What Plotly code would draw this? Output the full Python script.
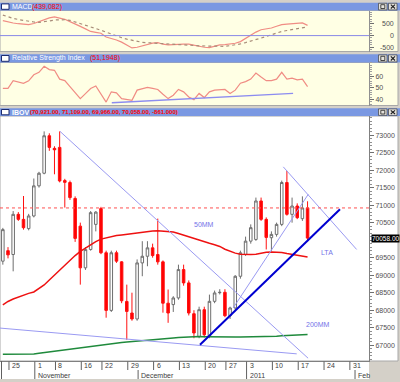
import plotly.graph_objects as go
import pandas as pd

# ---------------- trading calendar (Bovespa holidays removed) ----------------
holidays = ["2010-11-02", "2010-11-15", "2010-12-24", "2010-12-31"]
calendar = [d.strftime("%Y-%m-%d") for d in pd.bdate_range("2010-10-22", "2011-02-04")
            if d.strftime("%Y-%m-%d") not in holidays]
dates = calendar[:60]          # 2010-10-22 .. 2011-01-19

# ---------------- IBOV daily OHLC ----------------
opens = [69400, 69700, 69590, 70737, 70593, 70330, 70690, 71550, 71910, 72980,
         72620, 72648, 71700, 71645, 71190, 70400, 69210, 69734, 70450, 70900,
         69640, 67995, 69640, 69380, 68250, 67920, 67750, 69350, 69540, 69780,
         69590, 69380, 68200, 68160, 68350, 69160, 68780, 67900, 67250, 68015,
         67250, 68253, 68500, 68511, 67843, 68064, 68969, 69591, 69972, 70020,
         71118, 70593, 70069, 70164, 70450, 71645, 70737, 70974, 70613, 70921]
highs = [70350, 69800, 70830, 70800, 71260, 70750, 71760, 71950, 73105, 73050,
         72680, 73105, 71750, 71700, 71250, 70500, 69800, 70830, 70830, 70950,
         69700, 69700, 69700, 69400, 68730, 68500, 69450, 69970, 69970, 69900,
         70615, 69420, 68590, 68400, 69300, 69300, 68850, 68000, 68100, 68100,
         68445, 68560, 68600, 68600, 68100, 69000, 69700, 70100, 70450, 71215,
         71215, 70650, 70250, 70500, 71700, 71977, 71215, 71050, 71250, 71109]
lows = [69300, 69480, 69110, 70550, 70300, 70280, 70650, 71500, 71880, 72550,
        71880, 71650, 70930, 71150, 69950, 68730, 69150, 69700, 70250, 69600,
        67786, 67950, 69350, 68200, 67155, 67700, 67700, 68970, 69255, 69500,
        69300, 67930, 67640, 67950, 68300, 68700, 67850, 67200, 67200, 67220,
        67200, 68200, 68450, 67800, 67750, 68000, 68900, 69550, 69900, 69980,
        70550, 69734, 69685, 70100, 70400, 70700, 70499, 70600, 70550, 69966]
closes = [70300, 69580, 70737, 70593, 70355, 70690, 71550, 71910, 72980, 72648,
          72580, 71690, 71650, 71215, 70050, 69210, 69730, 70785, 70800, 69640,
          67995, 69640, 69400, 68270, 67965, 67750, 69350, 69540, 69780, 69560,
          69380, 68200, 67920, 68350, 69160, 68780, 67920, 67350, 68015, 67300,
          68253, 68493, 68510, 67843, 68064, 68969, 69639, 69972, 70356, 71118,
          70593, 70078, 70164, 70450, 71645, 70737, 70974, 70642, 70919, 70058]

# moving averages
ma50 = [68150, 68250, 68320, 68380, 68430, 68480, 68520, 68620, 68720, 68860,
        69000, 69150, 69300, 69420, 69560, 69680, 69780, 69870, 69960, 70030,
        70070, 70100, 70130, 70150, 70170, 70190, 70210, 70230, 70250, 70260,
        70265, 70260, 70250, 70230, 70190, 70140, 70090, 70040, 69990, 69950,
        69910, 69870, 69820, 69740, 69680, 69630, 69600, 69590, 69590, 69600,
        69630, 69655, 69665, 69660, 69650, 69620, 69595, 69570, 69545, 69520]
ma200 = [66745, 66745, 66745, 66745, 66745, 66745, 66750, 66770, 66790, 66810,
         66830, 66850, 66868, 66885, 66905, 66925, 66950, 66970, 66995, 67015,
         67030, 67045, 67060, 67075, 67090, 67105, 67120, 67135, 67150, 67170,
         67180, 67190, 67200, 67210, 67220, 67230, 67240, 67245, 67250, 67245,
         67240, 67238, 67236, 67235, 67234, 67234, 67234, 67234, 67234, 67235,
         67236, 67238, 67245, 67255, 67268, 67278, 67288, 67295, 67300, 67307]

# MACD and signal
macd = [640, 580, 540, 510, 480, 470, 520, 600, 690, 760,
        804, 760, 700, 600, 480, 396, 290, 178, 140, 100,
        -60, -120, -190, -280, -400, -530, -500, -430, -380, -320,
        -300, -370, -400, -380, -370, -365, -370, -420, -474, -500,
        -517, -460, -400, -385, -370, -330, -257, -120, 35, 150,
        252, 290, 326, 400, 470, 495, 513, 530, 543, 439]
signal = [880, 800, 740, 690, 650, 610, 585, 570, 590, 630,
          670, 687, 680, 657, 590, 510, 426, 360, 290, 230,
          150, 60, -20, -90, -152, -200, -240, -290, -305, -315,
          -325, -340, -355, -370, -395, -405, -415, -425, -443, -452,
          -460, -468, -474, -460, -430, -400, -357, -300, -240, -170,
          -109, -40, 35, 110, 178, 220, 252, 290, 326, 370]

# RSI
rsi = [49.6, 49.6, 56.4, 55.0, 54.1, 56.2, 61.5, 63.6, 68.9, 66.0,
       65.4, 57.7, 56.4, 51.1, 46.0, 40.7, 45.0, 49.5, 51.7, 45.0,
       37.7, 46.6, 45.7, 40.7, 39.8, 39.2, 48.1, 49.6, 50.5, 49.6,
       48.7, 44.5, 40.7, 43.7, 48.7, 46.6, 42.1, 39.8, 45.2, 41.6,
       46.6, 48.1, 48.7, 48.7, 45.2, 48.1, 54.1, 55.5, 57.7, 63.0,
       59.5, 56.4, 56.4, 57.7, 63.6, 57.7, 58.6, 57.1, 57.7, 51.19]

# drawn trend lines: (calendar index start, end), (price start, end)
tl_long_fall = ([11.07, 59.1], [73105, 66630])
tl_short_fall = ([54.3, 68.5], [72092, 69734])
tl_thin_rise = ([44.6, 59.14], [68064, 71310])
tl_low_fall = ([-0.55, 56.9], [67490, 66754])
tl_lta = ([38.17, 65.28], [67012, 70880])
rsi_support = ([21.1, 56.2], [37.1, 45.2])

# axis labels
day_tick_dates = ["2010-10-25", "2010-11-01", "2010-11-08", "2010-11-16", "2010-11-22",
                  "2010-11-29", "2010-12-06", "2010-12-13", "2010-12-20", "2010-12-27",
                  "2011-01-03", "2011-01-10", "2011-01-17", "2011-01-24", "2011-01-31"]
day_tick_labels = ["25", "1", "8", "16", "22", "29", "6", "13", "20", "27", "3", "10", "17", "24", "31"]
month_tick_dates = ["2010-11-01", "2010-12-01", "2011-01-03", "2011-02-01"]
month_tick_labels = ["November", "December", "2011", "Feb"]
price_ticks = list(range(67000, 73001, 500))
macd_ticks = [500, 0, -500]
rsi_ticks = [40, 50, 60]

# ---------------------------------------------------------------------------
xs = [calendar.index(d) for d in dates]
day_pos = [calendar.index(d) for d in day_tick_dates]
month_pos = [calendar.index(d) for d in month_tick_dates]
XR = [-0.549, 70.895]
W, H = 400, 382


def px(xp):
    return xp / W


def py(yp):
    return 1 - yp / H


FONT = "Liberation Sans"
TITLE_BLUE = "#7a98e2"
TL_COLOR = "#9a9af2"

fig = go.Figure()

# MACD panel
fig.add_trace(go.Scatter(x=xs, y=macd, mode="lines", line=dict(color="#f08c84", width=1.2),
                         xaxis="x2", yaxis="y2", hoverinfo="skip"))
fig.add_trace(go.Scatter(x=xs, y=signal, mode="lines", line=dict(color="#a88c78", width=1.2, dash="dot"),
                         xaxis="x2", yaxis="y2", hoverinfo="skip"))
# RSI panel
fig.add_trace(go.Scatter(x=xs, y=rsi, mode="lines", line=dict(color="#f08c84", width=1.2),
                         xaxis="x3", yaxis="y3", hoverinfo="skip"))
fig.add_trace(go.Scatter(x=rsi_support[0], y=rsi_support[1], mode="lines",
                         line=dict(color="#8c8cf0", width=1.3), xaxis="x3", yaxis="y3", hoverinfo="skip"))

# main panel
fig.add_trace(go.Scatter(x=xs, y=ma200, mode="lines", line=dict(color="#1f8a3c", width=1.5),
                         xaxis="x", yaxis="y", hoverinfo="skip"))
fig.add_trace(go.Candlestick(
    x=xs, open=opens, high=highs, low=lows, close=closes,
    increasing=dict(line=dict(color="#6e6e6e", width=1), fillcolor="#ffffff"),
    decreasing=dict(line=dict(color="#ff1010", width=1), fillcolor="#ff0000"),
    xaxis="x", yaxis="y", hoverinfo="skip"))
fig.add_trace(go.Scatter(x=xs, y=ma50, mode="lines", line=dict(color="#ee1111", width=1.5),
                         xaxis="x", yaxis="y", hoverinfo="skip"))
for tl in (tl_long_fall, tl_short_fall, tl_thin_rise, tl_low_fall):
    fig.add_trace(go.Scatter(x=tl[0], y=tl[1], mode="lines", line=dict(color=TL_COLOR, width=1),
                             xaxis="x", yaxis="y", hoverinfo="skip"))
fig.add_trace(go.Scatter(x=tl_lta[0], y=tl_lta[1], mode="lines", line=dict(color="#0000d0", width=2),
                         xaxis="x", yaxis="y", hoverinfo="skip"))

shapes = []
annotations = []

# ---------------- panel backgrounds and title bars ----------------
panels = [  # (title bar top, bar bottom, panel bottom, bg)
    (2.7, 10.5, 51.5, "#ffffe4"),
    (54.3, 62.5, 105.5, "#ffffe4"),
    (108.3, 116.0, 361.0, "#ffffff"),
]
for top, bar_bot, bot, bg in panels:
    shapes.append(dict(type="rect", xref="paper", yref="paper", x0=px(0), x1=px(398),
                       y0=py(bot), y1=py(bar_bot), fillcolor=bg, line=dict(color="#a8a8a8", width=1),
                       layer="below"))
    shapes.append(dict(type="rect", xref="paper", yref="paper", x0=px(0), x1=px(400),
                       y0=py(bar_bot), y1=py(top), fillcolor=TITLE_BLUE, line=dict(width=0),
                       layer="below"))
    # window icon
    shapes.append(dict(type="rect", xref="paper", yref="paper", x0=px(1.5), x1=px(9),
                       y0=py(bar_bot - 1.2), y1=py(top + 1.2), fillcolor="#ffffff",
                       line=dict(color="#1c2c70", width=1), layer="below"))
    # buttons
    for bx in (378.5, 388.5):
        shapes.append(dict(type="rect", xref="paper", yref="paper", x0=px(bx), x1=px(bx + 8.5),
                           y0=py(bar_bot - 0.6), y1=py(top + 0.6), fillcolor="#e4e2dc",
                           line=dict(color="#404040", width=0.7), layer="below"))
    shapes.append(dict(type="rect", xref="paper", yref="paper", x0=px(380.8), x1=px(384.8),
                       y0=py(bar_bot - 2), y1=py(top + 2), fillcolor="rgba(0,0,0,0)",
                       line=dict(color="#202020", width=0.8), layer="below"))
    shapes.append(dict(type="line", xref="paper", yref="paper", x0=px(390.8), x1=px(395),
                       y0=py(top + 2), y1=py(bar_bot - 2), line=dict(color="#202020", width=1.1)))
    shapes.append(dict(type="line", xref="paper", yref="paper", x0=px(390.8), x1=px(395),
                       y0=py(bar_bot - 2), y1=py(top + 2), line=dict(color="#202020", width=1.1)))

# date strip
shapes.append(dict(type="rect", xref="paper", yref="paper", x0=px(0), x1=px(369),
                   y0=py(379), y1=py(361), fillcolor="#ffffff", line=dict(width=0), layer="below"))
shapes.append(dict(type="line", xref="paper", yref="paper", x0=px(1.5), x1=px(1.5),
                   y0=py(379), y1=py(361), line=dict(color="#606060", width=1)))
for p in day_pos:
    shapes.append(dict(type="line", xref="x", yref="paper", x0=p + 0.19, x1=p + 0.19,
                       y0=py(370), y1=py(361.5), line=dict(color="#606060", width=1)))
for p in month_pos:
    shapes.append(dict(type="line", xref="x", yref="paper", x0=p + 0.19, x1=p + 0.19,
                       y0=py(379), y1=py(370), line=dict(color="#606060", width=1)))
for p, t in zip(day_pos, day_tick_labels):
    annotations.append(dict(x=p + 0.19, y=py(365.8), xref="x", yref="paper", text=t, showarrow=False,
                            xanchor="left", yanchor="middle", xshift=1,
                            font=dict(family=FONT, size=7, color="#404040")))
for p, t in zip(month_pos, month_tick_labels):
    annotations.append(dict(x=p + 0.19, y=py(375.2), xref="x", yref="paper", text=t, showarrow=False,
                            xanchor="left", yanchor="middle", xshift=1,
                            font=dict(family=FONT, size=7, color="#404040")))

# MACD zero line
shapes.append(dict(type="line", xref="x2 domain", yref="y2", x0=0, x1=1, y0=0, y1=0,
                   line=dict(color="#8888e6", width=1)))
# previous close dotted line
shapes.append(dict(type="line", xref="x domain", yref="y", x0=0, x1=1, y0=closes[-2], y1=closes[-2],
                   line=dict(color="#ff5050", width=1, dash="dot")))

# ---------------- titles ----------------
def title(y_center, white_text, x_red, red_text, red_size):
    annotations.append(dict(x=px(10.3), y=py(y_center), xref="paper", yref="paper", text=white_text,
                            showarrow=False, xanchor="left", yanchor="middle",
                            font=dict(family=FONT, size=7, color="#ffffff")))
    annotations.append(dict(x=px(x_red), y=py(y_center), xref="paper", yref="paper", text=red_text,
                            showarrow=False, xanchor="left", yanchor="middle",
                            font=dict(family=FONT, size=red_size, color="#ff0000")))


title(6.6, "MACD", 30.0, "(439,082)", 7)
title(58.4, "Relative Strength Index", 87.5, "(51,1948)", 7)
title(112.2, "<b>IBOV</b>", 27.5,
      "<b>(70,921.00, 71,109.00, 69,966.00, 70,058.00, -861.000)</b>", 6)

# MACD right-aligned labels
for v in macd_ticks:
    annotations.append(dict(x=px(395.5), y=v, xref="paper", yref="y2", text=str(v), showarrow=False,
                            xanchor="right", yanchor="middle",
                            font=dict(family=FONT, size=7, color="#505050")))

# last price tag
annotations.append(dict(x=px(370.5), y=closes[-1], xref="paper", yref="y", text="70058.00",
                        showarrow=False, xanchor="left", yanchor="middle", bgcolor="#000000",
                        borderpad=0, font=dict(family=FONT, size=6.5, color="#ffffff")))

# chart notes
note_font = dict(family=FONT, size=7, color="#7474e8")
annotations.append(dict(x=36.6, y=70450, xref="x", yref="y", text="50MM", showarrow=False,
                        xanchor="left", yanchor="middle", font=note_font))
annotations.append(dict(x=61.2, y=69660, xref="x", yref="y", text="LTA", showarrow=False,
                        xanchor="left", yanchor="middle", font=note_font))
annotations.append(dict(x=58.3, y=67600, xref="x", yref="y", text="200MM", showarrow=False,
                        xanchor="left", yanchor="middle", font=note_font))

tickfont = dict(family=FONT, size=7, color="#505050")
xcommon = dict(range=XR, showgrid=False, zeroline=False, showticklabels=False, ticks="",
               domain=[0, 369 / W], fixedrange=True)
price_text = ["" if v == 70000 else str(v) for v in price_ticks]

fig.update_layout(
    width=W, height=H, margin=dict(l=0, r=0, t=0, b=0),
    paper_bgcolor="#d4d0c8", plot_bgcolor="rgba(0,0,0,0)",
    showlegend=False, hovermode=False,
    xaxis=dict(**xcommon, anchor="y", rangeslider=dict(visible=False), showline=True,
               linecolor="#808080", linewidth=1),
    yaxis=dict(domain=[py(361), py(116)], range=[66550, 73544], side="right", anchor="x",
               showgrid=False, zeroline=False, tickmode="array", tickvals=price_ticks,
               ticktext=price_text, fixedrange=True,
               ticks="outside", ticklen=4, tickcolor="#707070", showline=True, linecolor="#808080",
               tickfont=tickfont,
               minor=dict(tickmode="linear", tick0=0, dtick=100, ticks="outside", ticklen=2,
                          tickcolor="#909090")),
    xaxis2=dict(**xcommon, anchor="y2", showline=False),
    yaxis2=dict(domain=[py(51.5), py(10.5)], range=[-683, 1078], side="right", anchor="x2",
                showgrid=False, zeroline=False, tickmode="array", tickvals=macd_ticks,
                showticklabels=False, fixedrange=True,
                ticks="outside", ticklen=4, tickcolor="#707070", showline=True, linecolor="#909090",
                minor=dict(tickmode="linear", tick0=0, dtick=100, ticks="outside", ticklen=2,
                           tickcolor="#a0a0a0")),
    xaxis3=dict(**xcommon, anchor="y3", showline=False),
    yaxis3=dict(domain=[py(105.5), py(62.5)], range=[34.7, 72.2], side="right", anchor="x3",
                showgrid=False, zeroline=False, tickmode="array", tickvals=rsi_ticks,
                ticktext=[str(v) for v in rsi_ticks], fixedrange=True,
                ticks="outside", ticklen=4, tickcolor="#707070", showline=True, linecolor="#909090",
                tickfont=tickfont,
                minor=dict(tickmode="linear", tick0=0, dtick=2, ticks="outside", ticklen=2,
                           tickcolor="#a0a0a0")),
    shapes=shapes,
    annotations=annotations,
)

fig.write_html("out.html", config={"displayModeBar": False, "staticPlot": True},
               post_script="document.body.style.margin='0px';"
                           "document.body.style.overflow='hidden';")
